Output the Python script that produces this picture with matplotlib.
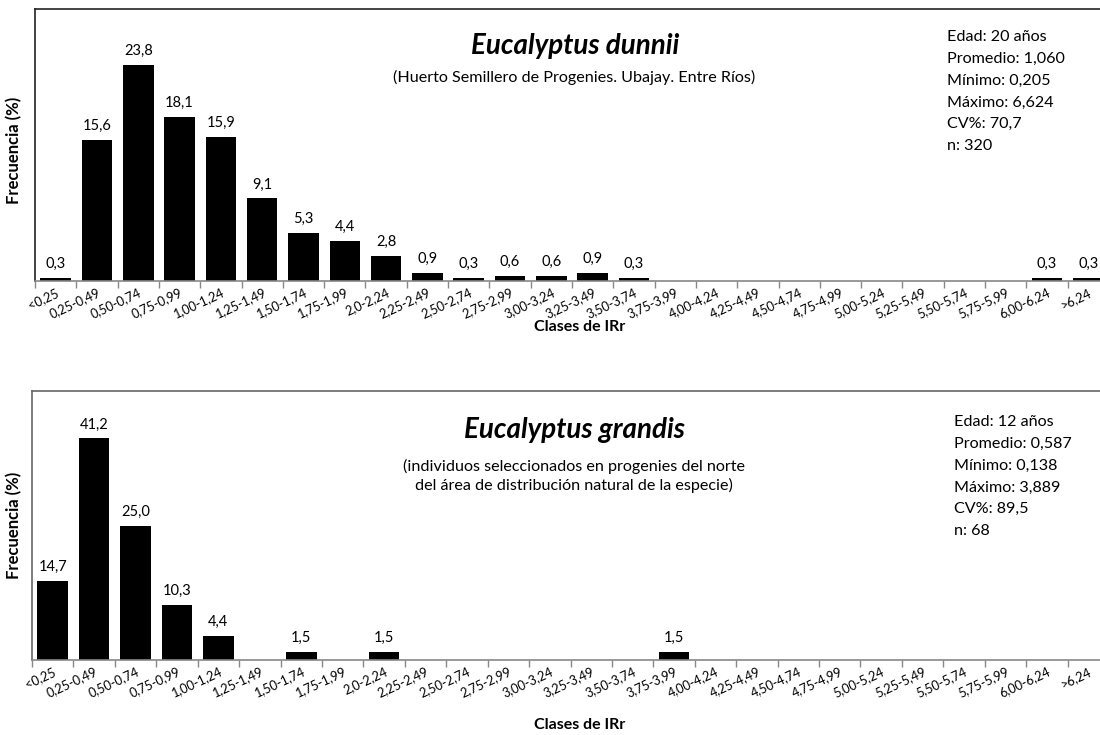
import matplotlib
matplotlib.use("Agg")
import matplotlib.pyplot as plt
from matplotlib.ticker import FixedLocator, NullFormatter

plt.rcParams['font.family'] = ['Lato', 'DejaVu Sans']

categories = ["<0,25", "0,25-0,49", "0,50-0,74", "0,75-0,99", "1,00-1,24", "1,25-1,49",
              "1,50-1,74", "1,75-1,99", "2,0-2,24", "2,25-2,49", "2,50-2,74", "2,75-2,99",
              "3,00-3,24", "3,25-3,49", "3,50-3,74", "3,75-3,99", "4,00-4,24", "4,25-4,49",
              "4,50-4,74", "4,75-4,99", "5,00-5,24", "5,25-5,49", "5,50-5,74", "5,75-5,99",
              "6,00-6,24", ">6,24"]

dunnii = [0.3, 15.6, 23.8, 18.1, 15.9, 9.1, 5.3, 4.4, 2.8, 0.9, 0.3, 0.6, 0.6, 0.9, 0.3,
          0, 0, 0, 0, 0, 0, 0, 0, 0, 0.3, 0.3]
grandis = [14.7, 41.2, 25.0, 10.3, 4.4, 0, 1.5, 0, 1.5, 0, 0, 0, 0, 0, 0,
           1.5, 0, 0, 0, 0, 0, 0, 0, 0, 0, 0]

titles = ["Eucalyptus dunnii", "Eucalyptus grandis"]
subtitles = ["(Huerto Semillero de Progenies. Ubajay. Entre Ríos)",
             "(individuos seleccionados en progenies del norte\ndel área de distribución natural de la especie)"]
stats_dunnii = ["Edad: 20 años", "Promedio: 1,060", "Mínimo: 0,205", "Máximo: 6,624", "CV%: 70,7", "n: 320"]
stats_grandis = ["Edad: 12 años", "Promedio: 0,587", "Mínimo: 0,138", "Máximo: 3,889", "CV%: 89,5", "n: 68"]
ylims = [30, 50]

W, H = 1100, 735
fig = plt.figure(figsize=(11, 7.35), dpi=100)

def fx(px):
    return px / W

def fy(py):
    return 1 - py / H

panels = [
    dict(vals=dunnii, left=35, right=1109, top=9, bottom=281, title_y=46, sub_y=77,
         stats=stats_dunnii, stats_x=947, stats_y=37, ylab_y=150, xlab_y=327,
         frame='#222222'),
    dict(vals=grandis, left=32, right=1109, top=391, bottom=660, title_y=430, sub_y=476,
         stats=stats_grandis, stats_x=954, stats_y=422, ylab_y=525, xlab_y=725,
         frame='#666666'),
]

for i, p in enumerate(panels):
    ax = fig.add_axes([fx(p['left']), fy(p['bottom']), fx(p['right'] - p['left']),
                       (p['bottom'] - p['top']) / H])
    x = list(range(len(categories)))
    ax.bar(x, p['vals'], width=0.74, color='black')
    ax.set_xlim(-0.5, len(categories) - 0.5)
    ax.set_ylim(0, ylims[i])
    for xi, v in zip(x, p['vals']):
        if v > 0:
            ax.annotate(f"{v:.1f}".replace('.', ','), (xi, v), xytext=(0, 5),
                        textcoords='offset points', ha='center', va='bottom', fontsize=10.5)
    ax.spines['right'].set_visible(False)
    ax.spines['left'].set_color(p['frame'])
    ax.spines['top'].set_color(p['frame'])
    ax.spines['bottom'].set_color('#888888')
    for s in ['left', 'top', 'bottom']:
        ax.spines[s].set_linewidth(1.2)
    ax.set_yticks([])
    ax.xaxis.set_major_locator(FixedLocator([k - 0.5 for k in range(len(categories) + 1)]))
    ax.xaxis.set_major_formatter(NullFormatter())
    ax.xaxis.set_minor_locator(FixedLocator(x))
    ax.set_xticklabels(categories, minor=True)
    ax.tick_params(axis='x', which='major', length=5, color='#888888', direction='out', width=1)
    ax.tick_params(axis='x', which='minor', length=0, pad=4, labelsize=9.2)
    for lab in ax.get_xticklabels(minor=True):
        lab.set_rotation(25)
        lab.set_ha('right')
        lab.set_rotation_mode('anchor')

    fig.text(fx(575), fy(p['title_y']), titles[i], fontsize=20, fontweight='bold',
             fontstyle='italic', ha='center', va='center')
    fig.text(fx(574), fy(p['sub_y']), subtitles[i], fontsize=11.6, ha='center', va='center',
             linespacing=1.3)
    for j, s in enumerate(p['stats']):
        fig.text(fx(p['stats_x']), fy(p['stats_y'] + 21.8 * j), s, fontsize=11.6,
                 ha='left', va='center')
    fig.text(fx(14), fy(p['ylab_y']), "Frecuencia (%)", rotation=90, fontsize=12,
             fontweight='bold', ha='center', va='center')
    fig.text(fx(580), fy(p['xlab_y']), "Clases de IRr", fontsize=11.5,
             fontweight='bold', ha='center', va='center')

fig.savefig("out.png", dpi=100, facecolor='white')
